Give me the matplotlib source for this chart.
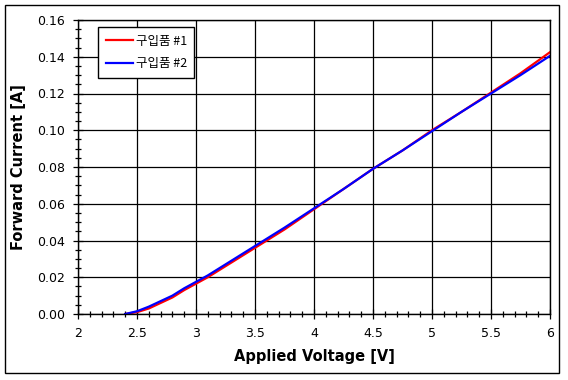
import matplotlib
matplotlib.use("Agg")
import matplotlib.pyplot as plt
from matplotlib.patches import Rectangle
from matplotlib.ticker import MultipleLocator

plt.rcParams['font.family'] = ['DejaVu Sans', 'Noto Sans CJK KR']

# data
volt = [2.4, 2.5, 2.6, 2.7, 2.8, 2.9, 3.0, 3.1, 3.2, 3.3, 3.4, 3.5, 3.75,
        4.0, 4.25, 4.5, 4.75, 5.0, 5.25, 5.5, 5.75, 6.0]
cur1 = [0.0, 0.001, 0.003, 0.006, 0.009, 0.013, 0.0165, 0.020, 0.024, 0.028,
        0.032, 0.036, 0.046, 0.057, 0.068, 0.079, 0.089, 0.100, 0.110,
        0.1205, 0.131, 0.1425]
cur2 = [0.0, 0.0015, 0.004, 0.007, 0.010, 0.014, 0.0175, 0.021, 0.025, 0.029,
        0.033, 0.037, 0.047, 0.0575, 0.068, 0.079, 0.089, 0.0995, 0.110,
        0.120, 0.130, 0.1405]
names = ['구입품 #1', '구입품 #2']
xticks = [2, 2.5, 3, 3.5, 4, 4.5, 5, 5.5, 6]
yticks = [0.0, 0.02, 0.04, 0.06, 0.08, 0.10, 0.12, 0.14, 0.16]

fig = plt.figure(figsize=(5.68, 3.80), dpi=100)
fig.patches.append(Rectangle((5/568, 1-373/380), 554/568, 368/380,
                             transform=fig.transFigure, fill=False,
                             edgecolor='black', linewidth=1))
ax = fig.add_axes([78/568, 1-314/380, 472/568, 294/380])

ax.plot(volt, cur1, color='#ff0000', lw=1.6, label=names[0])
ax.plot(volt, cur2, color='#0000ff', lw=1.6, label=names[1])

ax.set_xlim(2, 6)
ax.set_ylim(0, 0.16)
ax.xaxis.set_minor_locator(MultipleLocator(0.1))
ax.yaxis.set_minor_locator(MultipleLocator(0.005))
ax.set_xticks(xticks)
ax.set_xticklabels([('%g' % v) for v in xticks])
ax.set_yticks(yticks)
ax.set_yticklabels(['%.2f' % v for v in yticks])
ax.grid(True, which='major', color='black', lw=0.9)
ax.tick_params(which='major', direction='inout', length=7, width=0.9,
               labelsize=9, pad=6)
ax.tick_params(which='minor', direction='inout', length=4, width=0.9)
for s in ax.spines.values():
    s.set_linewidth(1)

ax.set_xlabel('Applied Voltage [V]', fontsize=10.5, fontweight='bold', labelpad=6)
ax.set_ylabel('Forward Current [A]', fontsize=10.5, fontweight='bold', labelpad=8)

leg = ax.legend(loc='upper left', bbox_to_anchor=(20/472, 1-7/294),
                borderaxespad=0, fancybox=False, framealpha=1,
                edgecolor='black', prop={'family': 'Noto Sans CJK KR', 'size': 9},
                handlelength=2.2, borderpad=0.6, labelspacing=0.78,
                handletextpad=0.2)
leg.get_frame().set_linewidth(1)

fig.savefig('out.png', dpi=100)
